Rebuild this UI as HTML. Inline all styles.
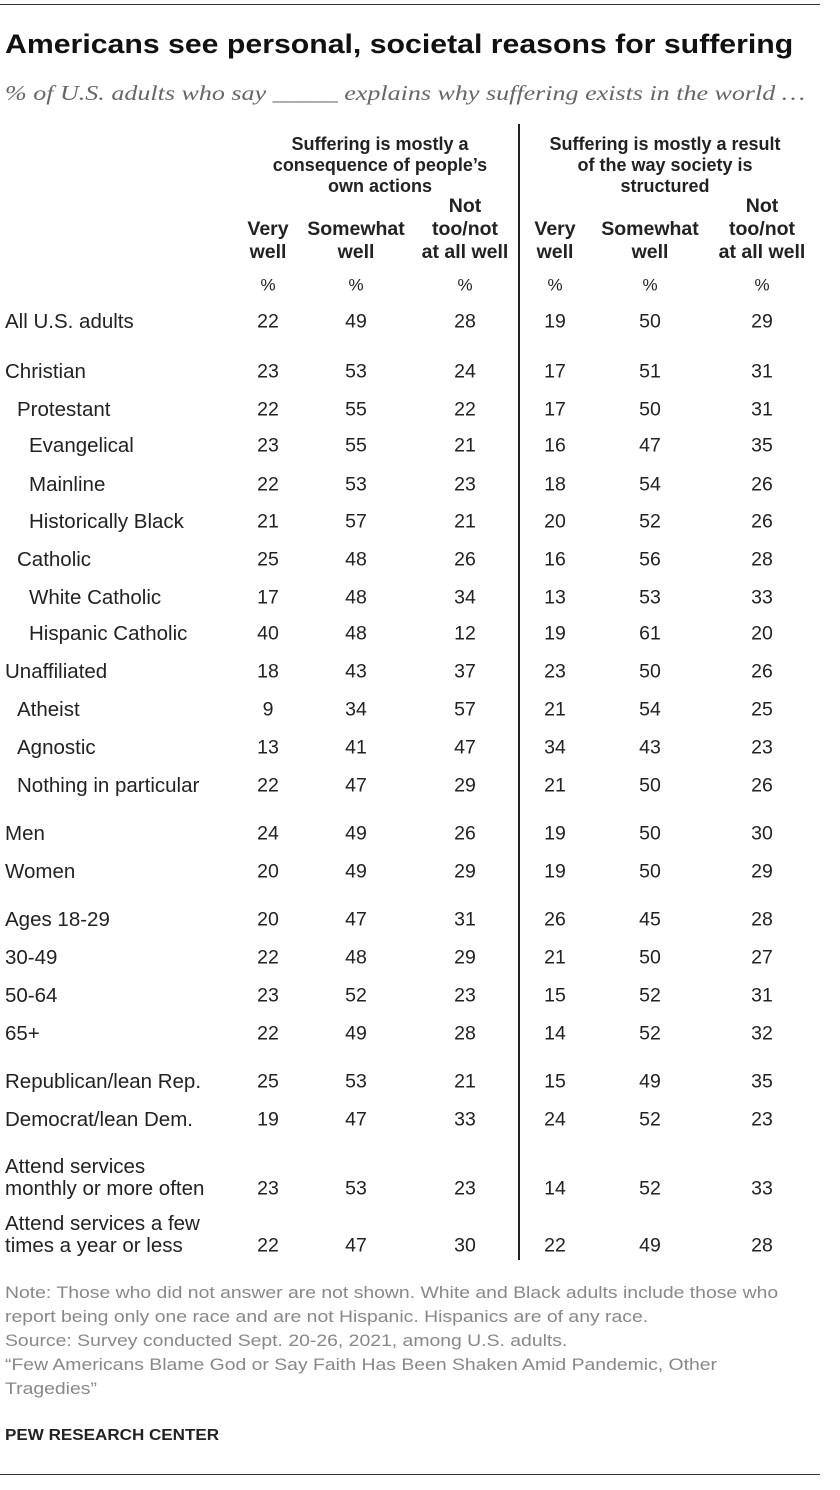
<!DOCTYPE html>
<html><head><meta charset="utf-8"><style>
body{margin:0;background:#fff;}
#c{position:relative;width:840px;height:1490px;font-family:"Liberation Sans",sans-serif;color:#222;overflow:hidden}
.t{position:absolute;white-space:nowrap;line-height:1;transform-origin:left top}
.b{font-weight:bold}
.h{position:absolute;font-weight:bold;font-size:18px;line-height:21px;text-align:center;transform:translateX(-50%);white-space:nowrap}
.v{position:absolute;font-size:19.5px;line-height:1;transform:translate(-50%,-50%);white-space:nowrap}
.l{position:absolute;font-size:20.5px;line-height:22px;transform:translateY(-50%);white-space:nowrap}
.n{position:absolute;font-size:17px;color:#888;white-space:nowrap;line-height:1;transform:scaleX(1.14);transform-origin:left top}
</style></head><body>
<div id="c">
<div style="position:absolute;left:0;top:4px;width:820px;height:1px;background:#333"></div>
<div class="t b" style="left:5px;top:31px;font-size:27px;color:#111;transform:scaleX(1.12)">Americans see personal, societal reasons for suffering</div>
<div class="t" style="left:5px;top:83px;font-size:21px;font-family:'Liberation Serif',serif;font-style:italic;color:#666;transform:scaleX(1.24)">% of U.S. adults who say _____ explains why suffering exists in the world …</div>
<div style="position:absolute;left:518px;top:124px;width:2px;height:1136px;background:#222"></div>
<div class="h" style="left:380px;top:134px">Suffering is mostly a<br>consequence of people’s<br>own actions</div>
<div class="h" style="left:665px;top:134px">Suffering is mostly a result<br>of the way society is<br>structured</div>
<div id="heads"></div>
<div id="rows"></div>
<div class="n" style="left:5px;top:1284px">Note: Those who did not answer are not shown. White and Black adults include those who</div>
<div class="n" style="left:5px;top:1308px">report being only one race and are not Hispanic. Hispanics are of any race.</div>
<div class="n" style="left:5px;top:1332px">Source: Survey conducted Sept. 20-26, 2021, among U.S. adults.</div>
<div class="n" style="left:5px;top:1356px">“Few Americans Blame God or Say Faith Has Been Shaken Amid Pandemic, Other</div>
<div class="n" style="left:5px;top:1380px">Tragedies”</div>
<div class="t b" style="left:5px;top:1428px;font-size:15.5px;color:#222;transform:scaleX(1.1)">PEW RESEARCH CENTER</div>
<div style="position:absolute;left:0;top:1474px;width:820px;height:1px;background:#333"></div>
</div>
<script>
const colX=[268,356,465,555,650,762];
const colHeads=[["","Very","well"],["","Somewhat","well"],["Not","too/not","at all well"],["","Very","well"],["","Somewhat","well"],["Not","too/not","at all well"]];
const labels=["All U.S. adults","Christian","Protestant","Evangelical","Mainline","Historically Black","Catholic","White Catholic","Hispanic Catholic","Unaffiliated","Atheist","Agnostic","Nothing in particular","Men","Women","Ages 18-29","30-49","50-64","65+","Republican/lean Rep.","Democrat/lean Dem.","Attend services<br>monthly or more often","Attend services a few<br>times a year or less"];
const indents=[0,0,1,2,2,2,1,2,2,0,1,1,1,0,0,0,0,0,0,0,0,0,0];
const rowY=[322,372,410,446,485,522,560,598,634,672,710,748,786,834,872,920,958,996,1034,1082,1120,1178,1235];
const values=[[22,49,28,19,50,29],[23,53,24,17,51,31],[22,55,22,17,50,31],[23,55,21,16,47,35],[22,53,23,18,54,26],[21,57,21,20,52,26],[25,48,26,16,56,28],[17,48,34,13,53,33],[40,48,12,19,61,20],[18,43,37,23,50,26],[9,34,57,21,54,25],[13,41,47,34,43,23],[22,47,29,21,50,26],[24,49,26,19,50,30],[20,49,29,19,50,29],[20,47,31,26,45,28],[22,48,29,21,50,27],[23,52,23,15,52,31],[22,49,28,14,52,32],[25,53,21,15,49,35],[19,47,33,24,52,23],[23,53,23,14,52,33],[22,47,30,22,49,28]];
const H=document.getElementById('heads');
colHeads.forEach((h,i)=>{
 const d=document.createElement('div');
 d.className='h';
 d.style.cssText=`left:${colX[i]}px;top:195px;font-size:19.5px;line-height:23px`;
 d.innerHTML=h.map(s=>s||'&nbsp;').join('<br>');
 
 
 H.appendChild(d);
 const p=document.createElement('div');
 p.className='v';
 p.style.cssText=`left:${colX[i]}px;top:285px;font-size:17px`;
 p.textContent='%';
 
 
 H.appendChild(p);
});
const R=document.getElementById('rows');
labels.forEach((lab,r)=>{
 const y=rowY[r];
 const l=document.createElement('div');
 l.className='l';
 l.style.cssText=`left:${5+indents[r]*12}px;top:${y}px`;
 l.innerHTML=lab;
 
 
 R.appendChild(l);
 const vy=lab.includes('<br>')?y+11:y;
 values[r].forEach((v,i)=>{
  const c=document.createElement('div');
  c.className='v';
  c.style.cssText=`left:${colX[i]}px;top:${vy}px`;
  c.textContent=v;
  
  
  R.appendChild(c);
 });
});
</script>
</body></html>
